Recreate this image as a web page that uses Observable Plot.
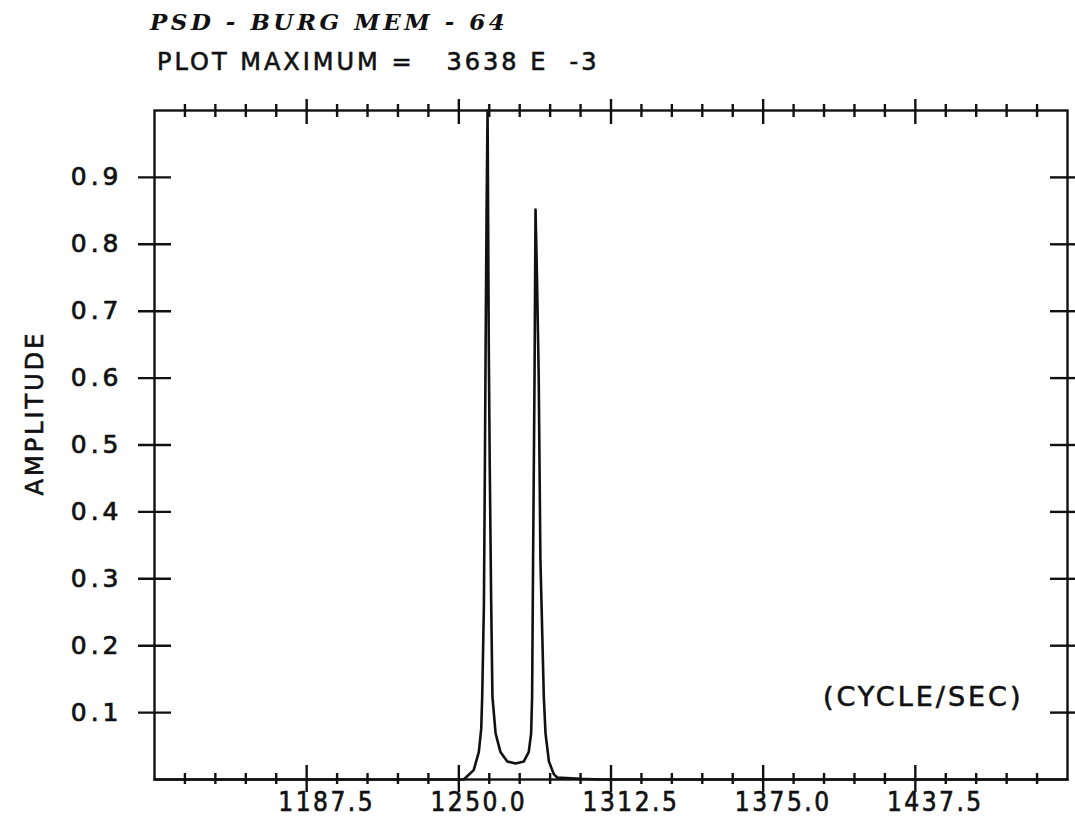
<!DOCTYPE html>
<html><head><meta charset="utf-8">
<script src="https://cdn.jsdelivr.net/npm/d3@7"></script>
<script src="https://cdn.jsdelivr.net/npm/@observablehq/plot@0.6"></script>
<style>
body{margin:0;background:#fff;}
#wrap{width:1075px;}
.t1{height:40px;line-height:44px;padding-left:150px;font-family:"DejaVu Serif",serif;font-style:italic;font-weight:bold;font-size:23px;letter-spacing:3.5px;white-space:pre;color:#111;}
.t2{height:45px;line-height:45px;padding-left:157px;font-family:"DejaVu Sans",sans-serif;font-size:24px;letter-spacing:3px;white-space:pre;color:#111;-webkit-text-stroke:0.6px #111;}
g[aria-label="y-axis tick label"] text{letter-spacing:4px;stroke:#111;stroke-width:0.7px;}
g[aria-label="x-axis tick label"] text{letter-spacing:2.5px;stroke:#111;stroke-width:0.6px;font-family:"DejaVu Sans Condensed","DejaVu Sans",sans-serif;}
g[aria-label="text"] text{letter-spacing:3px;stroke:#111;stroke-width:0.6px;}
</style></head><body>
<div id="wrap">
<div class="t1">PSD - BURG MEM - 64</div>
<div class="t2">PLOT MAXIMUM =   3638 E  -3</div>
<div id="chart"></div>
</div>
<script>
// Spectrum (frequency in cycle/sec, normalised amplitude)
const freq = [1125, 1252.0, 1256.1, 1258.2, 1259.2, 1259.6, 1260.3, 1260.7, 1261.0, 1261.4, 1261.8, 1262.3, 1262.7, 1263.3, 1263.8, 1265.1, 1267.1, 1269.9, 1273.3, 1276.7, 1278.7, 1279.7, 1280.1, 1280.5, 1281.1, 1281.5, 1282.1, 1282.8, 1283.5, 1284.9, 1285.6, 1287.0, 1289.0, 1290.4, 1300, 1308.2, 1500];
const amplitude = [0, 0, 0.014, 0.041, 0.076, 0.124, 0.261, 0.467, 0.646, 0.85, 1.0, 0.646, 0.467, 0.261, 0.124, 0.069, 0.041, 0.027, 0.024, 0.027, 0.041, 0.069, 0.124, 0.33, 0.605, 0.852, 0.75, 0.605, 0.33, 0.124, 0.069, 0.027, 0.008, 0.003, 0.001, 0, 0];
const xLabelTicks = [1187.5, 1250.0, 1312.5, 1375.0, 1437.5];
const xMinorTicks = [1137.5, 1150, 1162.5, 1175, 1200, 1212.5, 1225, 1237.5, 1262.5, 1275, 1287.5, 1300, 1325, 1337.5, 1350, 1362.5, 1387.5, 1400, 1412.5, 1425, 1450, 1462.5, 1475, 1487.5];
const yTicks = [0.1, 0.2, 0.3, 0.4, 0.5, 0.6, 0.7, 0.8, 0.9];
const xDomain = [1125, 1500];
const yDomain = [0, 1];

const data = freq.map((f, i) => ({f, a: amplitude[i]}));

const W = 1075, H = 742, mL = 154, mR = 8, mT = 25, mB = 48;
const pxX = (W - mL - mR) / (xDomain[1] - xDomain[0]);
const pxY = (H - mT - mB) / (yDomain[1] - yDomain[0]);
const ox = px => px / pxX; // pixel length -> x units
const oy = px => px / pxY; // pixel length -> y units
const ink = "#111";
const sw = 2.4;

const chart = Plot.plot({
  width: W, height: H,
  marginLeft: mL, marginRight: mR, marginTop: mT, marginBottom: mB,
  style: {fontFamily: "'DejaVu Sans', sans-serif", color: ink, background: "#fff"},
  x: {domain: xDomain},
  y: {domain: yDomain},
  marks: [
    Plot.frame({stroke: ink, strokeWidth: sw}),
    Plot.ruleY(yTicks, {y: d => d, x1: xDomain[0] - ox(16), x2: xDomain[0] + ox(17), stroke: ink, strokeWidth: sw}),
    Plot.ruleY(yTicks, {y: d => d, x1: xDomain[1] - ox(17), x2: xDomain[1] + ox(8), stroke: ink, strokeWidth: sw}),
    Plot.ruleX(xLabelTicks, {x: d => d, y1: yDomain[0] - oy(13), y2: yDomain[0] + oy(14), stroke: ink, strokeWidth: sw}),
    Plot.ruleX(xMinorTicks, {x: d => d, y1: yDomain[0] - oy(5), y2: yDomain[0] + oy(6), stroke: ink, strokeWidth: sw}),
    Plot.ruleX(xLabelTicks, {x: d => d, y1: yDomain[1] - oy(14), y2: yDomain[1] + oy(11), stroke: ink, strokeWidth: sw}),
    Plot.ruleX(xMinorTicks, {x: d => d, y1: yDomain[1] - oy(7), y2: yDomain[1] + oy(6), stroke: ink, strokeWidth: sw}),
    Plot.axisY(yTicks, {anchor: "left", tickSize: 0, tickPadding: 32, fontSize: 25, tickFormat: d => d.toFixed(1), label: null}),
    Plot.axisX(xLabelTicks, {anchor: "bottom", tickSize: 0, tickPadding: 13, fontSize: 26, dx: 20, tickFormat: d => d.toFixed(1), label: null}),
    Plot.line(data, {x: "f", y: "a", stroke: ink, strokeWidth: 2.6, strokeLinejoin: "round"}),
    Plot.text(["(CYCLE/SEC)"], {text: d => d, frameAnchor: "bottom-right", textAnchor: "end", lineAnchor: "middle", dx: -44, dy: -82, fontSize: 27, fill: ink}),
    Plot.text(["AMPLITUDE"], {text: d => d, frameAnchor: "left", rotate: -90, textAnchor: "middle", lineAnchor: "middle", dx: -119, dy: -32, fontSize: 24, fill: ink})
  ]
});
document.getElementById("chart").appendChild(chart);
</script>
</body></html>
